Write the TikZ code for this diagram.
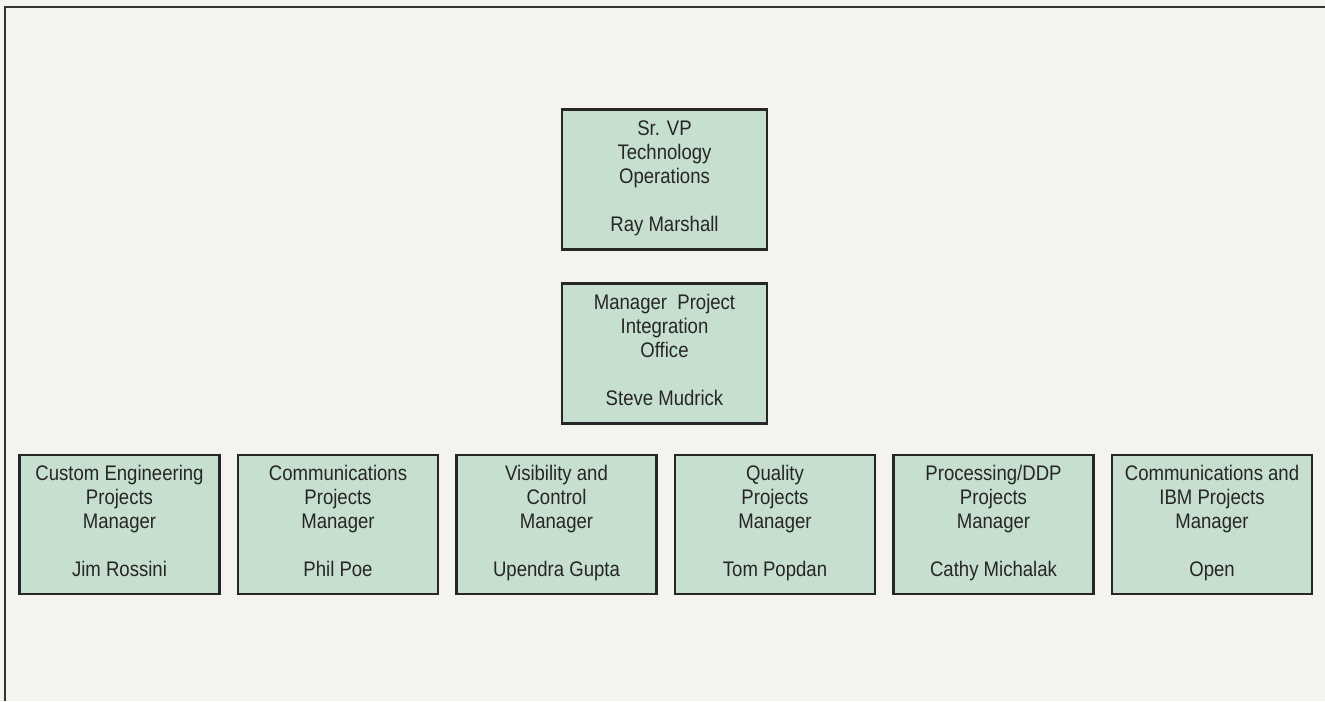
\documentclass[tikz,border=0pt]{standalone}
\usepackage{fontspec}
\setmainfont{Liberation Sans}[FakeStretch=0.88]
\usetikzlibrary{positioning}
\definecolor{boxgreen}{RGB}{198,223,207}
\definecolor{paper}{RGB}{245,243,240}
\definecolor{ink}{RGB}{38,38,38}

\begin{document}
\begin{tikzpicture}[node distance=4.37cm,on grid,
	post/.style={draw=black!85,line width=1.3pt,fill=boxgreen,text=ink,align=center,
		minimum width=4cm,minimum height=2.78cm,inner sep=0pt,
		font=\fontsize{12}{13.6}\selectfont,
		execute at begin node=\rule{0pt}{14pt},execute at end node=\strut},
	head/.style={post,minimum width=4.1cm,minimum height=2.8cm}]
	\fill[paper] (0,0) rectangle (26.5,-14.02);
	\useasboundingbox (0,0) rectangle (26.5,-14.02);
	\draw[black!80,line width=1.2pt] (0.1,-14.02) |- (26.5,-0.14);
	\node[head] (vp) at (13.29,-3.59) {Sr. VP\\Technology\\Operations\\[13.6pt]Ray Marshall};
	\node[head,below=3.48cm of vp] (pio) {Manager\ \ Project\\Integration\\Office\\[13.6pt]Steve Mudrick};
	\node[post,below right=3.42cm and 2.21cm of pio] (qual) {Quality\\Projects\\Manager\\[13.6pt]Tom Popdan};
	\node[post,left of=qual] (vis) {Visibility and\\Control\\Manager\\[13.6pt]Upendra Gupta};
	\node[post,left of=vis] (comm) {Communications\\Projects\\Manager\\[13.6pt]Phil Poe};
	\node[post,left of=comm] (cust) {Custom Engineering\\Projects\\Manager\\[13.6pt]Jim Rossini};
	\node[post,right of=qual] (ddp) {Processing/DDP\\Projects\\Manager\\[13.6pt]Cathy Michalak};
	\node[post,right of=ddp] (ibm) {Communications and\\IBM Projects\\Manager\\[13.6pt]Open};
\end{tikzpicture}
\end{document}
